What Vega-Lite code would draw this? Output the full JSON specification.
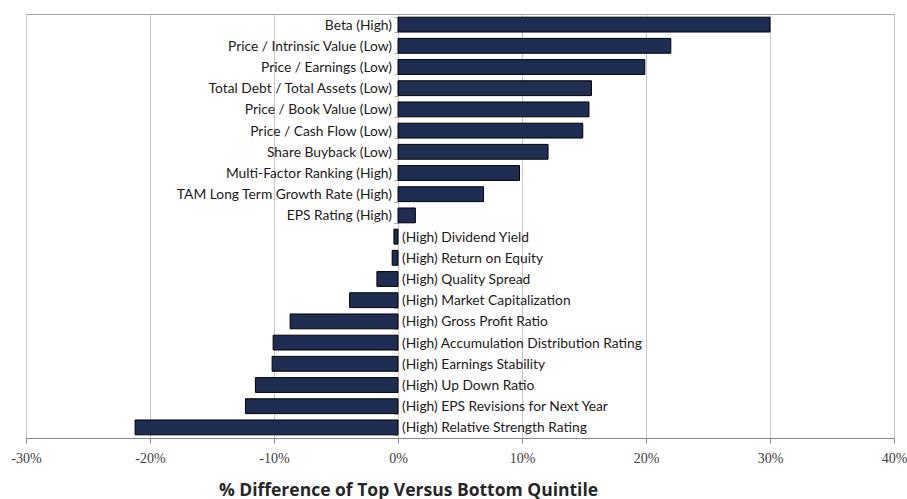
{
  "$schema": "https://vega.github.io/schema/vega-lite/v6.json",
  "width": 868,
  "height": 424,
  "autosize": "none",
  "padding": {"left": 26, "top": 14, "right": 13, "bottom": 61},
  "background": "white",
  "title": {"text": "Average Factor Ranking (%)", "anchor": "end", "frame": "group", "orient": "top", "offset": 10, "baseline": "bottom", "dx": -60, "fontSize": 20, "font": "Lato", "fontWeight": "normal", "color": "#262626"},
  "config": {"view": {"stroke": "#a6a6a6", "strokeWidth": 1}},
  "data": {"values": [
    {"factor": "Beta (High)", "value": 30.0},
    {"factor": "Price / Intrinsic Value (Low)", "value": 22.0},
    {"factor": "Price / Earnings (Low)", "value": 19.9},
    {"factor": "Total Debt / Total Assets (Low)", "value": 15.6},
    {"factor": "Price / Book Value (Low)", "value": 15.4},
    {"factor": "Price / Cash Flow (Low)", "value": 14.9},
    {"factor": "Share Buyback (Low)", "value": 12.1},
    {"factor": "Multi-Factor Ranking (High)", "value": 9.8},
    {"factor": "TAM Long Term Growth Rate (High)", "value": 6.9},
    {"factor": "EPS Rating (High)", "value": 1.4},
    {"factor": "(High) Dividend Yield", "value": -0.33},
    {"factor": "(High) Return on Equity", "value": -0.47},
    {"factor": "(High) Quality Spread", "value": -1.7},
    {"factor": "(High) Market Capitalization", "value": -3.9},
    {"factor": "(High) Gross Profit Ratio", "value": -8.7},
    {"factor": "(High) Accumulation Distribution Rating", "value": -10.07},
    {"factor": "(High) Earnings Stability", "value": -10.15},
    {"factor": "(High) Up Down Ratio", "value": -11.5},
    {"factor": "(High) EPS Revisions for Next Year", "value": -12.3},
    {"factor": "(High) Relative Strength Rating", "value": -21.2}
  ]},
  "encoding": {
    "y": {
      "field": "factor", "type": "nominal", "sort": null,
      "scale": {"paddingInner": 0.3, "paddingOuter": 0.15},
      "axis": {"title": null, "labels": false, "offset": -372, "domain": false, "ticks": true, "tickBand": "extent", "tickSize": 4, "tickColor": "#a6a6a6", "grid": false}
    },
    "x": {
      "field": "value", "type": "quantitative",
      "scale": {"domain": [-30, 40], "nice": false, "zero": false},
      "axis": {
        "values": [-30, -20, -10, 0, 10, 20, 30, 40],
        "labelExpr": "datum.value + '%'",
        "title": "% Difference of Top Versus Bottom Quintile",
        "titleFont": "Open Sans", "titleFontSize": 17.5, "titleFontWeight": "bold", "titleColor": "#262626",
        "titleAnchor": "start", "titleAlign": "center", "titleX": 382, "titleY": 52, "titleBaseline": "middle",
        "labelFont": "Liberation Serif", "labelFontSize": 14, "labelColor": "#404040", "labelPadding": 8,
        "domainColor": "#868686", "tickColor": "#868686", "tickSize": 5,
        "grid": true, "gridColor": "#c6c6c6", "labelFlush": false
      }
    }
  },
  "layer": [
    {
      "mark": {"type": "bar", "fill": "#1f2d52", "stroke": "#000000", "strokeWidth": 1}
    },
    {
      "transform": [{"filter": "datum.value >= 0"}],
      "mark": {"type": "text", "align": "right", "baseline": "middle", "dx": -6, "dy": 1, "font": "Lato", "fontSize": 13.8, "color": "#1a1a1a"},
      "encoding": {"x": {"datum": 0, "type": "quantitative"}, "text": {"field": "factor"}}
    },
    {
      "transform": [{"filter": "datum.value < 0"}],
      "mark": {"type": "text", "align": "left", "baseline": "middle", "dx": 4, "dy": 1, "font": "Lato", "fontSize": 13.8, "color": "#1a1a1a"},
      "encoding": {"x": {"datum": 0, "type": "quantitative"}, "text": {"field": "factor"}}
    }
  ]
}
